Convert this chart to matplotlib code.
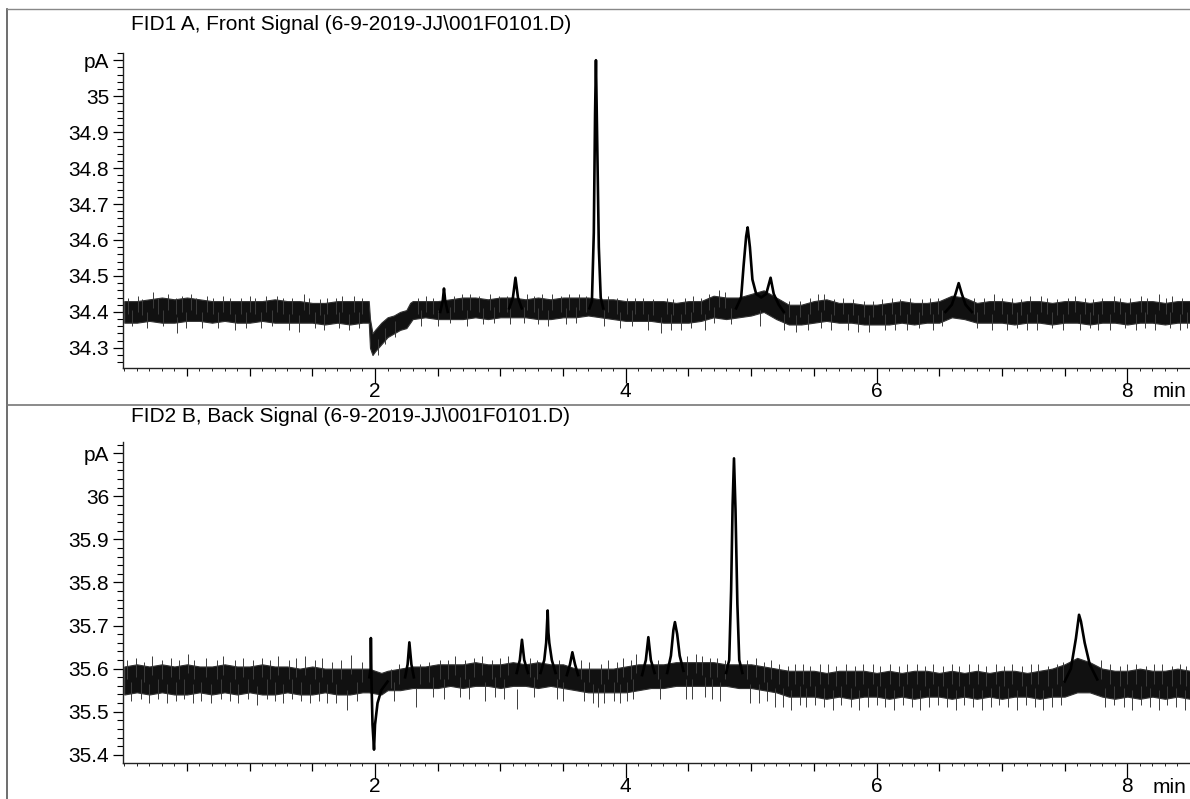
import matplotlib
matplotlib.use("Agg")
import matplotlib.pyplot as plt
from matplotlib.lines import Line2D
from matplotlib.ticker import MultipleLocator

plt.rcParams['font.family'] = ['Liberation Sans', 'DejaVu Sans']

# ---- FID1 A, front signal -------------------------------------------------
# noise band of the baseline (lower / upper edge)
band1_t = [0.0, 0.1, 0.2, 0.3, 0.4, 0.5, 0.6, 0.7, 0.8, 0.9, 1.0, 1.1, 1.2, 1.3,
           1.4, 1.5, 1.6, 1.7, 1.8, 1.9, 1.95, 1.96, 1.98, 2.0, 2.05, 2.1, 2.15,
           2.2, 2.25, 2.28, 2.3, 2.4, 2.5, 2.6, 2.7, 2.8, 2.9, 3.0, 3.1, 3.2,
           3.3, 3.4, 3.5, 3.6, 3.7, 3.8, 3.9, 4.0, 4.1, 4.2, 4.3, 4.4, 4.5, 4.6,
           4.7, 4.8, 4.9, 5.0, 5.1, 5.2, 5.3, 5.4, 5.5, 5.6, 5.7, 5.8, 5.9, 6.0,
           6.1, 6.2, 6.3, 6.4, 6.5, 6.6, 6.7, 6.8, 6.9, 7.0, 7.1, 7.2, 7.3, 7.4,
           7.5, 7.6, 7.7, 7.8, 7.9, 8.0, 8.1, 8.2, 8.3, 8.4, 8.5]
band1_lo = [34.37, 34.37, 34.375, 34.37, 34.37, 34.375, 34.375, 34.37, 34.375, 34.37,
            34.37, 34.375, 34.37, 34.37, 34.37, 34.37, 34.365, 34.37, 34.365, 34.37,
            34.37, 34.30, 34.28, 34.29, 34.31, 34.33, 34.34, 34.35, 34.355, 34.37,
            34.38, 34.385, 34.38, 34.38, 34.38, 34.385, 34.38, 34.385, 34.385, 34.385,
            34.38, 34.38, 34.385, 34.385, 34.39, 34.385, 34.38, 34.375, 34.375, 34.375,
            34.37, 34.37, 34.37, 34.375, 34.385, 34.38, 34.385, 34.39, 34.40, 34.38,
            34.365, 34.365, 34.37, 34.375, 34.37, 34.37, 34.365, 34.365, 34.365, 34.37,
            34.365, 34.37, 34.37, 34.385, 34.38, 34.37, 34.37, 34.37, 34.365, 34.37,
            34.37, 34.365, 34.37, 34.37, 34.365, 34.37, 34.37, 34.365, 34.37, 34.37,
            34.365, 34.37, 34.37]
band1_hi = [34.43, 34.43, 34.435, 34.44, 34.435, 34.44, 34.435, 34.43, 34.43, 34.43,
            34.43, 34.43, 34.435, 34.43, 34.43, 34.425, 34.425, 34.43, 34.43, 34.43,
            34.43, 34.38, 34.34, 34.35, 34.37, 34.385, 34.39, 34.40, 34.405, 34.425,
            34.43, 34.43, 34.43, 34.435, 34.44, 34.44, 34.435, 34.44, 34.44, 34.435,
            34.44, 34.435, 34.44, 34.44, 34.44, 34.435, 34.435, 34.43, 34.43, 34.43,
            34.43, 34.425, 34.43, 34.43, 34.445, 34.44, 34.44, 34.45, 34.46, 34.44,
            34.42, 34.42, 34.43, 34.435, 34.425, 34.425, 34.42, 34.42, 34.425, 34.43,
            34.425, 34.425, 34.43, 34.445, 34.44, 34.425, 34.43, 34.43, 34.425, 34.43,
            34.43, 34.425, 34.43, 34.43, 34.425, 34.43, 34.43, 34.425, 34.43, 34.43,
            34.425, 34.43, 34.43]

# peak outlines
peaks1 = [
    ([2.52, 2.54, 2.55, 2.56, 2.58], [34.40, 34.43, 34.465, 34.43, 34.40]),
    ([3.07, 3.10, 3.12, 3.14, 3.17], [34.41, 34.44, 34.495, 34.44, 34.41]),
    ([3.71, 3.73, 3.745, 3.755, 3.762, 3.77, 3.785, 3.80, 3.82],
     [34.41, 34.43, 34.62, 34.95, 35.10, 34.92, 34.58, 34.44, 34.41]),
    ([4.88, 4.92, 4.94, 4.96, 4.972, 4.99, 5.01, 5.04, 5.08, 5.12, 5.155, 5.18, 5.22, 5.26],
     [34.41, 34.44, 34.53, 34.61, 34.635, 34.58, 34.49, 34.45, 34.44, 34.45, 34.495, 34.45, 34.42, 34.40]),
    ([6.55, 6.60, 6.63, 6.655, 6.68, 6.71, 6.76], [34.40, 34.42, 34.45, 34.48, 34.45, 34.42, 34.40]),
]

# noise hairs above the band: time, highest value
up1_t = [0.03, 0.11, 0.14, 0.23, 0.27, 0.35, 0.41, 0.46, 0.53, 0.57, 0.66, 0.71, 0.79,
         0.84, 0.93, 1.00, 1.04, 1.13, 1.22, 1.27, 1.34, 1.43, 1.47, 1.56, 1.62, 1.69,
         1.74, 1.83, 1.90, 2.34, 2.41, 2.46, 2.63, 2.69, 2.76, 2.83, 2.92, 2.99, 3.05,
         3.21, 3.27, 3.33, 3.41, 3.48, 3.55, 3.63, 3.68, 3.86, 3.93, 4.01, 4.07, 4.14,
         4.22, 4.33, 4.38, 4.47, 4.54, 4.60, 4.66, 4.74, 4.79, 5.30, 5.39, 5.47, 5.53,
         5.58, 5.66, 5.73, 5.81, 5.90, 5.97, 6.04, 6.12, 6.19, 6.27, 6.36, 6.43, 6.49,
         6.78, 6.86, 6.94, 7.00, 7.08, 7.15, 7.22, 7.31, 7.36, 7.44, 7.53, 7.58, 7.66,
         7.73, 7.80, 7.89, 7.94, 8.02, 8.11, 8.16, 8.25, 8.31, 8.36, 8.44]
up1_v = [34.44, 34.445, 34.435, 34.455, 34.44, 34.45, 34.44, 34.445, 34.45, 34.44,
         34.445, 34.44, 34.445, 34.44, 34.44, 34.445, 34.44, 34.445, 34.445, 34.44,
         34.44, 34.45, 34.44, 34.435, 34.44, 34.44, 34.445, 34.445, 34.44, 34.44,
         34.445, 34.44, 34.445, 34.45, 34.45, 34.445, 34.45, 34.445, 34.445, 34.45,
         34.445, 34.45, 34.45, 34.445, 34.45, 34.45, 34.445, 34.445, 34.44, 34.44,
         34.44, 34.44, 34.435, 34.44, 34.435, 34.44, 34.445, 34.44, 34.45, 34.46,
         34.455, 34.43, 34.43, 34.44, 34.45, 34.45, 34.435, 34.44, 34.435, 34.43,
         34.43, 34.435, 34.44, 34.435, 34.44, 34.435, 34.44, 34.44, 34.44, 34.44,
         34.45, 34.44, 34.44, 34.435, 34.445, 34.445, 34.44, 34.435, 34.44, 34.445,
         34.44, 34.435, 34.44, 34.445, 34.44, 34.44, 34.445, 34.44, 34.45, 34.44,
         34.445, 34.44]
# noise hairs below the band: time, lowest value
dn1_t = [0.06, 0.18, 0.31, 0.42, 0.49, 0.62, 0.75, 0.88, 0.97, 1.09, 1.18, 1.31, 1.39,
         1.52, 1.59, 1.71, 1.79, 1.87, 2.02, 2.08, 2.16, 2.37, 2.50, 2.60, 2.73, 2.86,
         2.95, 3.08, 3.19, 3.30, 3.38, 3.52, 3.60, 3.83, 3.95, 4.05, 4.18, 4.28, 4.36,
         4.44, 4.52, 4.63, 4.70, 4.84, 5.07, 5.26, 5.36, 5.45, 5.56, 5.64, 5.77, 5.85,
         5.94, 6.07, 6.15, 6.24, 6.34, 6.45, 6.52, 6.80, 6.92, 7.04, 7.12, 7.20, 7.28,
         7.40, 7.49, 7.62, 7.70, 7.77, 7.86, 7.98, 8.07, 8.14, 8.22, 8.34, 8.42, 8.48]
dn1_v = [34.36, 34.355, 34.36, 34.34, 34.355, 34.355, 34.355, 34.35, 34.355, 34.355,
         34.36, 34.35, 34.345, 34.355, 34.35, 34.355, 34.35, 34.355, 34.28, 34.31,
         34.33, 34.36, 34.36, 34.37, 34.36, 34.365, 34.37, 34.365, 34.37, 34.365,
         34.36, 34.365, 34.37, 34.36, 34.355, 34.36, 34.35, 34.34, 34.35, 34.35,
         34.355, 34.35, 34.37, 34.365, 34.36, 34.35, 34.345, 34.35, 34.355, 34.35,
         34.35, 34.345, 34.345, 34.35, 34.35, 34.35, 34.355, 34.35, 34.36, 34.355,
         34.35, 34.35, 34.355, 34.35, 34.35, 34.355, 34.35, 34.35, 34.355, 34.35,
         34.35, 34.355, 34.35, 34.355, 34.35, 34.355, 34.35, 34.355]

# ---- FID2 B, back signal --------------------------------------------------
band2_t = [0.0, 0.1, 0.2, 0.3, 0.4, 0.5, 0.6, 0.7, 0.8, 0.9, 1.0, 1.1, 1.2, 1.3,
           1.4, 1.5, 1.6, 1.7, 1.8, 1.9, 1.95, 2.05, 2.1, 2.2, 2.3, 2.4, 2.5, 2.6,
           2.7, 2.8, 2.9, 3.0, 3.1, 3.2, 3.3, 3.4, 3.5, 3.6, 3.7, 3.8, 3.9, 4.0,
           4.1, 4.2, 4.3, 4.4, 4.5, 4.6, 4.7, 4.8, 4.9, 5.0, 5.1, 5.2, 5.3, 5.4,
           5.5, 5.6, 5.7, 5.8, 5.9, 6.0, 6.1, 6.2, 6.3, 6.4, 6.5, 6.6, 6.7, 6.8,
           6.9, 7.0, 7.1, 7.2, 7.3, 7.4, 7.5, 7.6, 7.7, 7.8, 7.9, 8.0, 8.1, 8.2,
           8.3, 8.4, 8.5]
band2_lo = [35.54, 35.545, 35.54, 35.545, 35.54, 35.54, 35.545, 35.54, 35.545, 35.54,
            35.545, 35.54, 35.54, 35.545, 35.54, 35.54, 35.545, 35.54, 35.54, 35.545,
            35.545, 35.54, 35.55, 35.55, 35.555, 35.555, 35.555, 35.56, 35.555, 35.56,
            35.56, 35.555, 35.56, 35.56, 35.555, 35.56, 35.555, 35.55, 35.545, 35.545,
            35.545, 35.545, 35.55, 35.555, 35.555, 35.56, 35.56, 35.56, 35.56, 35.56,
            35.555, 35.555, 35.55, 35.545, 35.535, 35.535, 35.535, 35.53, 35.535, 35.53,
            35.535, 35.535, 35.53, 35.535, 35.53, 35.535, 35.535, 35.53, 35.535, 35.53,
            35.535, 35.53, 35.535, 35.535, 35.53, 35.535, 35.535, 35.545, 35.545, 35.535,
            35.53, 35.535, 35.53, 35.535, 35.53, 35.535, 35.53]
band2_hi = [35.605, 35.61, 35.605, 35.61, 35.605, 35.61, 35.605, 35.605, 35.61, 35.605,
            35.605, 35.61, 35.605, 35.605, 35.6, 35.605, 35.6, 35.6, 35.6, 35.6,
            35.6, 35.59, 35.595, 35.6, 35.605, 35.605, 35.61, 35.61, 35.61, 35.615,
            35.61, 35.61, 35.615, 35.61, 35.615, 35.61, 35.61, 35.6, 35.6, 35.6,
            35.6, 35.605, 35.61, 35.61, 35.61, 35.615, 35.615, 35.615, 35.615, 35.61,
            35.61, 35.61, 35.605, 35.6, 35.595, 35.595, 35.595, 35.59, 35.595, 35.595,
            35.595, 35.59, 35.595, 35.59, 35.595, 35.595, 35.59, 35.595, 35.59, 35.595,
            35.59, 35.595, 35.595, 35.59, 35.595, 35.6, 35.61, 35.625, 35.615, 35.6,
            35.595, 35.595, 35.6, 35.595, 35.595, 35.6, 35.595]

peaks2 = [
    ([1.955, 1.965, 1.967, 1.972, 1.98, 1.992, 2.0, 2.02, 2.05, 2.1],
     [35.58, 35.60, 35.671, 35.57, 35.47, 35.412, 35.47, 35.52, 35.55, 35.57]),
    ([2.24, 2.26, 2.274, 2.29, 2.31], [35.58, 35.61, 35.661, 35.61, 35.58]),
    ([3.13, 3.155, 3.172, 3.19, 3.22], [35.59, 35.62, 35.667, 35.62, 35.59]),
    ([3.32, 3.35, 3.365, 3.377, 3.383, 3.39, 3.41, 3.44],
     [35.59, 35.62, 35.66, 35.735, 35.684, 35.66, 35.62, 35.59]),
    ([3.53, 3.555, 3.574, 3.595, 3.62], [35.585, 35.61, 35.638, 35.61, 35.585]),
    ([4.13, 4.16, 4.18, 4.20, 4.23], [35.585, 35.62, 35.673, 35.62, 35.59]),
    ([4.33, 4.36, 4.38, 4.392, 4.41, 4.43, 4.46], [35.59, 35.63, 35.69, 35.708, 35.68, 35.63, 35.595]),
    ([4.80, 4.825, 4.84, 4.852, 4.863, 4.875, 4.89, 4.905, 4.93],
     [35.59, 35.62, 35.78, 35.98, 36.088, 35.97, 35.75, 35.62, 35.59]),
    ([7.50, 7.55, 7.59, 7.615, 7.63, 7.66, 7.70, 7.76], [35.57, 35.60, 35.67, 35.725, 35.71, 35.66, 35.61, 35.575]),
]

up2_t = [0.02, 0.09, 0.16, 0.22, 0.30, 0.37, 0.44, 0.51, 0.56, 0.65, 0.74, 0.79, 0.88,
         0.95, 1.03, 1.10, 1.16, 1.23, 1.31, 1.37, 1.44, 1.52, 1.58, 1.66, 1.73, 1.81,
         1.90, 2.13, 2.19, 2.36, 2.43, 2.52, 2.58, 2.64, 2.72, 2.79, 2.85, 2.93, 3.00,
         3.06, 3.24, 3.29, 3.47, 3.64, 3.71, 3.80, 3.86, 3.93, 3.98, 4.04, 4.08, 4.26,
         4.49, 4.56, 4.61, 4.67, 4.73, 4.79, 4.97, 5.04, 5.10, 5.16, 5.22, 5.29, 5.35,
         5.41, 5.47, 5.55, 5.61, 5.68, 5.76, 5.83, 5.89, 5.97, 6.03, 6.11, 6.18, 6.24,
         6.32, 6.39, 6.45, 6.53, 6.60, 6.66, 6.74, 6.81, 6.87, 6.95, 7.02, 7.08, 7.16,
         7.23, 7.29, 7.37, 7.44, 7.49, 7.79, 7.86, 7.94, 8.00, 8.07, 8.15, 8.21, 8.28,
         8.36, 8.42, 8.47]
up2_v = [35.62, 35.625, 35.615, 35.63, 35.62, 35.625, 35.62, 35.635, 35.62, 35.625,
         35.62, 35.63, 35.62, 35.625, 35.62, 35.625, 35.62, 35.63, 35.62, 35.625,
         35.63, 35.62, 35.625, 35.615, 35.62, 35.632, 35.615, 35.60, 35.61, 35.61,
         35.615, 35.62, 35.62, 35.63, 35.62, 35.625, 35.63, 35.62, 35.625, 35.63,
         35.625, 35.62, 35.62, 35.62, 35.615, 35.61, 35.62, 35.615, 35.625, 35.62,
         35.635, 35.62, 35.63, 35.635, 35.63, 35.625, 35.625, 35.62, 35.62, 35.625,
         35.615, 35.62, 35.61, 35.605, 35.61, 35.61, 35.605, 35.61, 35.61, 35.605,
         35.61, 35.605, 35.61, 35.61, 35.605, 35.61, 35.605, 35.61, 35.61, 35.605,
         35.61, 35.605, 35.61, 35.605, 35.61, 35.61, 35.605, 35.61, 35.605, 35.61,
         35.605, 35.61, 35.61, 35.605, 35.61, 35.615, 35.62, 35.61, 35.605, 35.61,
         35.61, 35.605, 35.61, 35.61, 35.605, 35.61, 35.605]
dn2_t = [0.05, 0.13, 0.20, 0.27, 0.34, 0.41, 0.48, 0.55, 0.61, 0.69, 0.77, 0.84, 0.91,
         0.99, 1.06, 1.14, 1.20, 1.27, 1.34, 1.41, 1.48, 1.55, 1.62, 1.69, 1.78, 1.86,
         2.15, 2.33, 2.46, 2.55, 2.68, 2.75, 2.88, 2.96, 3.03, 3.13, 3.27, 3.45, 3.50,
         3.67, 3.74, 3.78, 3.83, 3.91, 3.95, 4.01, 4.06, 4.27, 4.48, 4.53, 4.63, 4.69,
         4.75, 4.99, 5.06, 5.13, 5.19, 5.25, 5.32, 5.39, 5.44, 5.51, 5.58, 5.65, 5.72,
         5.80, 5.86, 5.93, 6.00, 6.07, 6.14, 6.21, 6.28, 6.35, 6.42, 6.49, 6.56, 6.63,
         6.70, 6.77, 6.84, 6.91, 6.98, 7.05, 7.12, 7.19, 7.26, 7.33, 7.40, 7.47, 7.82,
         7.89, 7.97, 8.04, 8.11, 8.18, 8.25, 8.32, 8.39, 8.46]
dn2_v = [35.525, 35.53, 35.52, 35.53, 35.52, 35.525, 35.53, 35.52, 35.525, 35.52,
         35.53, 35.525, 35.52, 35.53, 35.515, 35.53, 35.525, 35.52, 35.53, 35.525,
         35.52, 35.525, 35.52, 35.52, 35.505, 35.525, 35.525, 35.51, 35.535, 35.53,
         35.535, 35.53, 35.525, 35.535, 35.53, 35.507, 35.535, 35.53, 35.525, 35.525,
         35.52, 35.51, 35.52, 35.525, 35.52, 35.525, 35.53, 35.53, 35.53, 35.53,
         35.535, 35.53, 35.525, 35.52, 35.52, 35.525, 35.51, 35.51, 35.505, 35.515,
         35.51, 35.515, 35.51, 35.505, 35.515, 35.51, 35.505, 35.51, 35.515, 35.51,
         35.505, 35.515, 35.51, 35.505, 35.51, 35.515, 35.51, 35.505, 35.515, 35.51,
         35.505, 35.51, 35.515, 35.51, 35.505, 35.515, 35.51, 35.505, 35.51, 35.515,
         35.51, 35.515, 35.51, 35.505, 35.515, 35.51, 35.505, 35.515, 35.51, 35.505]

titles = ["FID1 A, Front Signal (6-9-2019-JJ\\001F0101.D)",
          "FID2 B, Back Signal (6-9-2019-JJ\\001F0101.D)"]
yticks1 = [34.3, 34.4, 34.5, 34.6, 34.7, 34.8, 34.9, 35.0, 35.1]
ylabels1 = ["34.3", "34.4", "34.5", "34.6", "34.7", "34.8", "34.9", "35", "pA"]
yticks2 = [35.4, 35.5, 35.6, 35.7, 35.8, 35.9, 36.0, 36.1]
ylabels2 = ["35.4", "35.5", "35.6", "35.7", "35.8", "35.9", "36", "pA"]
xticks = [0.5, 1.0, 1.5, 2.0, 2.5, 3.0, 3.5, 4.0, 4.5, 5.0, 5.5, 6.0, 6.5, 7.0, 7.5, 8.0]
xlabeled = [2.0, 4.0, 6.0, 8.0]

W, H = 1190, 799
fig = plt.figure(figsize=(W / 100, H / 100), dpi=100)

def fx(px):
    return px / W

def fy(py):
    return 1 - py / H

ax1 = fig.add_axes([fx(123), fy(368), 1 - fx(123), fy(53) - fy(368)])
ax2 = fig.add_axes([fx(123), fy(763), 1 - fx(123), fy(442) - fy(763)])

panels = [
    (ax1, band1_t, band1_lo, band1_hi, peaks1, up1_t, up1_v, dn1_t, dn1_v,
     yticks1, ylabels1, (34.244, 35.12)),
    (ax2, band2_t, band2_lo, band2_hi, peaks2, up2_t, up2_v, dn2_t, dn2_v,
     yticks2, ylabels2, (35.381, 36.126)),
]

for ax, bt, blo, bhi, peaks, ut, uv, dt, dv, yt, yl, ylim in panels:
    ax.fill_between(bt, blo, bhi, color="#111111", lw=0.8, edgecolor="#333333")
    # hairs start inside the band and stick out of it
    ax.vlines(ut, [v - 0.045 for v in uv], uv, color="#3c3c3c", lw=0.7)
    ax.vlines(dt, dv, [v + 0.045 for v in dv], color="#3c3c3c", lw=0.7)
    for pt, pv in peaks:
        ax.plot(pt, pv, color="black", lw=1.9)
    ax.set_xlim(-0.01, 8.5)
    ax.set_ylim(*ylim)
    for s in ["top", "right"]:
        ax.spines[s].set_visible(False)
    for s in ["left", "bottom"]:
        ax.spines[s].set_color("#222222")
        ax.spines[s].set_linewidth(1.0)
    ax.set_yticks(yt)
    ax.set_yticklabels(yl)
    ax.yaxis.set_minor_locator(MultipleLocator(0.02))
    ax.tick_params(axis="y", which="major", length=7, width=0.9, labelsize=15, pad=3)
    ax.tick_params(axis="y", which="minor", length=4, width=0.8)
    ax.set_xticks(xticks)
    ax.set_xticklabels([str(int(v)) if v in xlabeled else "" for v in xticks])
    ax.xaxis.set_minor_locator(MultipleLocator(0.1))
    ax.tick_params(axis="x", which="major", length=6, width=0.9, labelsize=15, pad=4)
    ax.tick_params(axis="x", which="minor", length=2, width=0.6)
    for v, tick in zip(xticks, ax.xaxis.get_major_ticks()):
        if v in xlabeled:
            tick.tick1line.set_markersize(11)
    ax.text(8.2, -0.075, "min", transform=ax.get_xaxis_transform(), fontsize=15,
            ha="left", va="center")

fig.text(fx(131), fy(24), titles[0], fontsize=15, ha="left", va="center")
fig.text(fx(131), fy(416), titles[1], fontsize=15, ha="left", va="center")

# page frame of the printout
fig.add_artist(Line2D([fx(7), fx(7)], [fy(9), fy(799)], color="#555555", lw=1.2))
fig.add_artist(Line2D([fx(7), 1], [fy(9), fy(9)], color="#888888", lw=1.0))
fig.add_artist(Line2D([fx(7), 1], [fy(405), fy(405)], color="#777777", lw=1.2))

fig.savefig("out.png", dpi=100)
